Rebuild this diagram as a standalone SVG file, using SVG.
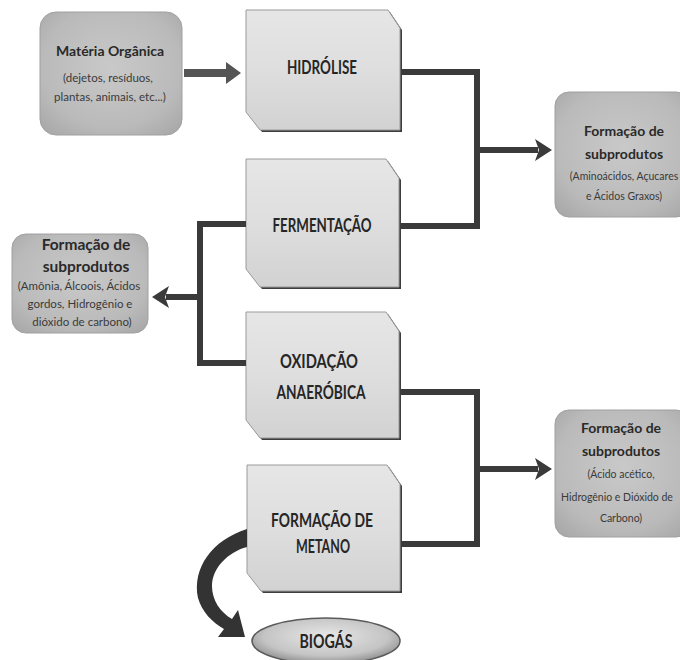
<svg xmlns="http://www.w3.org/2000/svg" width="680" height="660" viewBox="0 0 680 660">
<defs>
<linearGradient id="gBox" x1="0" y1="0" x2="0" y2="1">
<stop offset="0" stop-color="#e6e6e6"/><stop offset="0.5" stop-color="#dedede"/><stop offset="1" stop-color="#d2d2d2"/>
</linearGradient>
<radialGradient id="gRound" cx="0.5" cy="0.45" r="0.7">
<stop offset="0" stop-color="#c9c9c9"/><stop offset="0.7" stop-color="#bababa"/><stop offset="1" stop-color="#a8a8a8"/>
</radialGradient>
<radialGradient id="gBio" cx="0.5" cy="0.4" r="0.6">
<stop offset="0" stop-color="#e8e8e8"/><stop offset="0.7" stop-color="#c4c4c4"/><stop offset="1" stop-color="#8e8e8e"/>
</radialGradient>
</defs>
<style>
.step{fill:url(#gBox);stroke:#9a9a9a;stroke-width:1}
.shadow{fill:#3d3d3d}
.rbox{fill:url(#gRound);stroke:#a0a0a0;stroke-width:1}
.lbl{font-family:Lato,"Liberation Sans",sans-serif;font-weight:bold;font-size:19px;fill:#262626;text-anchor:middle}
.ttl{font-family:Lato,"Liberation Sans",sans-serif;font-weight:bold;font-size:14px;fill:#2a2a2a;text-anchor:middle}
.sub{font-family:Lato,"Liberation Sans",sans-serif;font-size:10.5px;fill:#3a3a3a;text-anchor:middle}
.con{fill:none;stroke:#3a3a3a;stroke-width:6;stroke-linejoin:miter;stroke-linecap:butt}
</style>
<rect width="680" height="660" fill="#ffffff"/>

<g id="materia">
<rect class="rbox" x="40" y="12" width="142" height="123" rx="16"/>
<text class="ttl" x="110" y="56">Matéria Orgânica</text>
<text class="sub" x="108" y="82" style="font-size:11.5px">(dejetos, resíduos,</text>
<text class="sub" x="110" y="101" style="font-size:11.5px">plantas, animais, etc...)</text>
</g>

<g id="hidrolise">
<path class="shadow" d="M248 12 H390 L402 30 V132 H262 L248 114 Z"/>
<path class="step" d="M246 10 H388 L400 28 V130 H260 L246 112 Z"/>
<text class="lbl" x="322" y="74" textLength="70" lengthAdjust="spacingAndGlyphs">HIDRÓLISE</text>
</g>

<g id="fermentacao">
<path class="shadow" d="M248 161 H388 L401 180 V289 H262 L248 271 Z"/>
<path class="step" d="M246 159 H386 L399 178 V287 H260 L246 269 Z"/>
<text class="lbl" x="322" y="232" textLength="99" lengthAdjust="spacingAndGlyphs">FERMENTAÇÃO</text>
</g>

<g id="oxidacao">
<path class="shadow" d="M248 314 H388 L401 333 V440 H262 L248 422 Z"/>
<path class="step" d="M246 312 H386 L399 331 V438 H260 L246 420 Z"/>
<text class="lbl" x="319" y="368" textLength="78" lengthAdjust="spacingAndGlyphs">OXIDAÇÃO</text>
<text class="lbl" x="321" y="399" textLength="89" lengthAdjust="spacingAndGlyphs">ANAERÓBICA</text>
</g>

<g id="metano">
<path class="shadow" d="M249 467 H389 L402 486 V593 H263 L249 575 Z"/>
<path class="step" d="M247 465 H387 L400 484 V591 H261 L247 573 Z"/>
<text class="lbl" x="322" y="527" textLength="102" lengthAdjust="spacingAndGlyphs">FORMAÇÃO DE</text>
<text class="lbl" x="323" y="553" textLength="54" lengthAdjust="spacingAndGlyphs">METANO</text>
</g>

<g id="sub1">
<rect class="rbox" x="555" y="92" width="135" height="125" rx="14"/>
<text class="ttl" x="624" y="136">Formação de</text>
<text class="ttl" x="624" y="159">subprodutos</text>
<text class="sub" x="624" y="180">(Aminoácidos, Açucares</text>
<text class="sub" x="624" y="200">e Ácidos Graxos)</text>
</g>

<g id="sub2">
<rect class="rbox" x="12" y="234" width="136" height="99" rx="14"/>
<text class="ttl" x="86" y="250" style="font-size:15.5px">Formação de</text>
<text class="ttl" x="86" y="272" style="font-size:15.5px">subprodutos</text>
<text class="sub" x="79" y="290" style="font-size:11.5px">(Amônia, Álcoois, Ácidos</text>
<text class="sub" x="80" y="308" style="font-size:11.5px">gordos, Hidrogênio e</text>
<text class="sub" x="82" y="326" style="font-size:11.5px">dióxido de carbono)</text>
</g>

<g id="sub3">
<rect class="rbox" x="555" y="410" width="135" height="127" rx="14"/>
<text class="ttl" x="621" y="433">Formação de</text>
<text class="ttl" x="621" y="456">subprodutos</text>
<text class="sub" x="621" y="478">(Ácido acético,</text>
<text class="sub" x="617" y="501">Hidrogênio e Dióxido de</text>
<text class="sub" x="621" y="522">Carbono)</text>
</g>

<g id="biogas">
<ellipse cx="326" cy="641" rx="74" ry="23" fill="url(#gBio)" stroke="#5a5a5a" stroke-width="1.5"/>
<text class="lbl" x="326" y="648" textLength="53" lengthAdjust="spacingAndGlyphs">BIOGÁS</text>
</g>

<g id="connectors">
<path d="M184 69 H226 V62 L241 73 L226 84 V77 H184 Z" fill="#555555"/>
<path class="con" d="M402 72 H477 V226 H401"/>
<path class="con" d="M477 150 H538"/>
<path d="M535 139 L552 150 L535 161 L539 150 Z" fill="#3a3a3a"/>
<path class="con" d="M246 224 H200 V363 H246"/>
<path class="con" d="M200 297 H166"/>
<path d="M169 286 L152 297 L169 308 L165 297 Z" fill="#3a3a3a"/>
<path class="con" d="M401 392 H477 V544 H401"/>
<path class="con" d="M477 469 H538"/>
<path d="M535 458 L552 469 L535 480 L539 469 Z" fill="#3a3a3a"/>
<path d="M247 529 C212 540 192 568 198 598 C202 612 212 622 224 629 L218 637 L245 637 L238 610 L232 619 C220 612 212 600 212 586 C212 568 228 552 247 547 Z" fill="#333333"/>
</g>
</svg>
